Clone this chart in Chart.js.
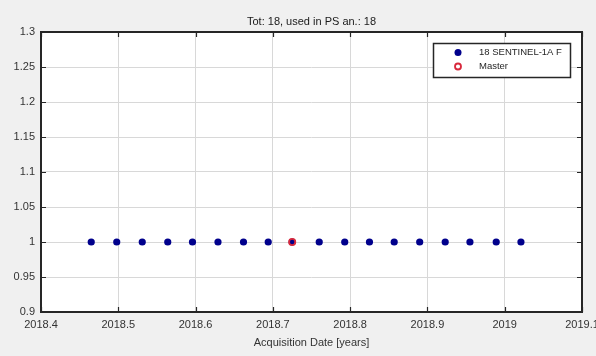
<!DOCTYPE html>
<html>
<head>
<meta charset="utf-8">
<script src="https://cdn.jsdelivr.net/npm/chart.js@4.4.0/dist/chart.umd.min.js"></script>
<style>
  html, body { margin: 0; padding: 0; background: #f0f0f0; }
  #wrap { width: 596px; height: 356px; }
</style>
</head>
<body>
<div id="wrap"><canvas id="c" width="596" height="356"></canvas></div>
<script>
// Acquisition epochs (decimal years) and their plotted ordinate
const acqDates = [2018.465, 2018.498, 2018.531, 2018.564, 2018.596, 2018.629,
                  2018.662, 2018.694, 2018.725, 2018.760, 2018.793, 2018.825,
                  2018.857, 2018.890, 2018.923, 2018.955, 2018.989, 2019.021];
const acqValues = [1, 1, 1, 1, 1, 1, 1, 1, 1, 1, 1, 1, 1, 1, 1, 1, 1, 1];
const masterDates = [2018.725];
const masterValues = [1];

// Axis ticks
const xTicks = [2018.4, 2018.5, 2018.6, 2018.7, 2018.8, 2018.9, 2019.0, 2019.1];
const yTicks = [0.9, 0.95, 1.0, 1.05, 1.1, 1.15, 1.2, 1.25, 1.3];

// Text
const chartTitle = 'Tot: 18, used in PS an.: 18';
const xAxisTitle = 'Acquisition Date [years]';
const seriesNames = ['18 SENTINEL-1A F', 'Master'];

const FONT = "'Liberation Sans', Arial, Helvetica, sans-serif";
const AXIS_COLOR = '#333333';
const BLUE = '#00008c';
const RED = '#d8283c';

const fmt = v => String(+Number(v).toFixed(2));

// White plot background, frame with inward tick marks, title centred over the axes, boxed legend
const framePlugin = {
  id: 'frame',
  beforeDraw(chart) {
    const { ctx, chartArea: a } = chart;
    ctx.save();
    ctx.fillStyle = '#ffffff';
    ctx.fillRect(a.left, a.top, a.right - a.left, a.bottom - a.top);
    ctx.fillStyle = '#1a1a1a';
    ctx.font = '11px ' + FONT;
    ctx.textAlign = 'center';
    ctx.textBaseline = 'middle';
    ctx.fillText(chartTitle, (a.left + a.right) / 2, a.top - 10);
    ctx.restore();
  },
  afterDatasetsDraw(chart) {
    const { ctx, chartArea: a, scales } = chart;
    ctx.save();
    ctx.strokeStyle = '#262626';
    ctx.lineWidth = 1.2;
    const tl = 5;
    ctx.beginPath();
    xTicks.forEach(v => {
      const x = Math.round(scales.x.getPixelForValue(v)) + 0.5;
      ctx.moveTo(x, a.bottom); ctx.lineTo(x, a.bottom - tl);
      ctx.moveTo(x, a.top); ctx.lineTo(x, a.top + tl);
    });
    yTicks.forEach(v => {
      const y = Math.round(scales.y.getPixelForValue(v)) + 0.5;
      ctx.moveTo(a.left, y); ctx.lineTo(a.left + tl, y);
      ctx.moveTo(a.right, y); ctx.lineTo(a.right - tl, y);
    });
    ctx.stroke();
    ctx.lineWidth = 2;
    ctx.strokeRect(Math.round(a.left), Math.round(a.top),
                   Math.round(a.right - a.left), Math.round(a.bottom - a.top));
    ctx.restore();
  },
  afterDraw(chart) {
    const { ctx, chartArea: a } = chart;
    const ds = chart.data.datasets;
    const w = 137, h = 34;
    const bx = Math.round(a.right - 12 - w), by = Math.round(a.top + 11);
    ctx.save();
    ctx.fillStyle = '#ffffff';
    ctx.fillRect(bx, by, w, h);
    ctx.strokeStyle = '#262626';
    ctx.lineWidth = 1.5;
    ctx.strokeRect(bx + 0.5, by + 0.5, w, h);
    const rows = [by + 9.5, by + 23.5];
    // filled marker
    ctx.beginPath();
    ctx.arc(bx + 25, rows[0], 3.5, 0, Math.PI * 2);
    ctx.fillStyle = ds[0].backgroundColor;
    ctx.fill();
    // open marker
    ctx.beginPath();
    ctx.arc(bx + 25, rows[1], 3, 0, Math.PI * 2);
    ctx.strokeStyle = ds[1].borderColor;
    ctx.lineWidth = 1.8;
    ctx.stroke();
    ctx.fillStyle = '#262626';
    ctx.font = '9.5px ' + FONT;
    ctx.textBaseline = 'middle';
    ctx.textAlign = 'left';
    ctx.fillText(ds[0].label, bx + 46, rows[0]);
    ctx.fillText(ds[1].label, bx + 46, rows[1]);
    ctx.restore();
  }
};

new Chart(document.getElementById('c'), {
  type: 'scatter',
  data: {
    datasets: [
      {
        label: seriesNames[0],
        data: acqDates.map((d, i) => ({ x: d, y: acqValues[i] })),
        backgroundColor: BLUE,
        borderWidth: 0,
        pointRadius: 3.6,
        order: 2
      },
      {
        label: seriesNames[1],
        data: masterDates.map((d, i) => ({ x: d, y: masterValues[i] })),
        backgroundColor: 'rgba(0,0,0,0)',
        borderColor: RED,
        borderWidth: 1.8,
        pointRadius: 3.1,
        order: 1
      }
    ]
  },
  options: {
    responsive: false,
    animation: false,
    devicePixelRatio: 1,
    layout: { padding: { left: 0, right: 14, top: 32, bottom: 0 } },
    plugins: {
      legend: { display: false },
      tooltip: { enabled: false },
      title: { display: false }
    },
    scales: {
      x: {
        type: 'linear',
        min: 2018.4,
        max: 2019.1,
        afterBuildTicks: s => { s.ticks = xTicks.map(v => ({ value: v })); },
        afterFit: s => { s.height = 44; s.paddingLeft = 0; s.paddingRight = 0; },
        grid: { color: '#d8d8d8', lineWidth: 1, drawTicks: false },
        border: { display: false },
        ticks: {
          color: AXIS_COLOR,
          font: { family: FONT, size: 11 },
          padding: 6,
          maxRotation: 0,
          autoSkip: false,
          callback: v => fmt(v)
        },
        title: {
          display: true,
          text: xAxisTitle,
          color: AXIS_COLOR,
          font: { family: FONT, size: 11, lineHeight: 1.2 },
          padding: { top: 0, bottom: 6.4 }
        }
      },
      y: {
        type: 'linear',
        min: 0.9,
        max: 1.3,
        afterBuildTicks: s => { s.ticks = yTicks.map(v => ({ value: v })); },
        afterFit: s => { s.width = 41; s.paddingTop = 0; s.paddingBottom = 0; },
        grid: { color: '#d8d8d8', lineWidth: 1, drawTicks: false },
        border: { display: false },
        ticks: {
          color: AXIS_COLOR,
          font: { family: FONT, size: 11 },
          padding: 6,
          autoSkip: false,
          callback: v => fmt(v)
        }
      }
    }
  },
  plugins: [framePlugin]
});
</script>
</body>
</html>
